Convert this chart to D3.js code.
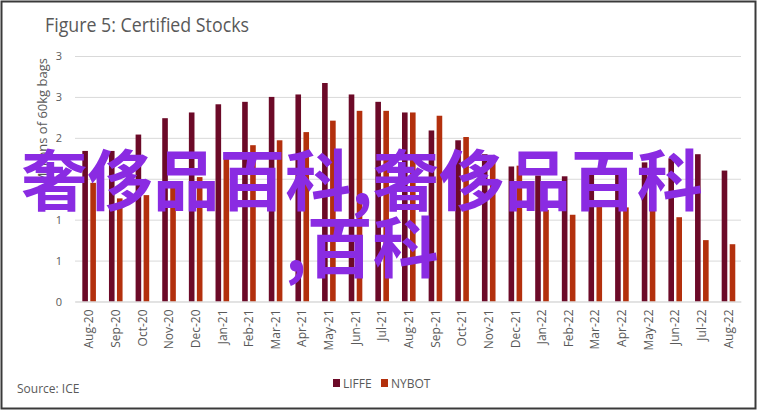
<!DOCTYPE html>
<html>
<head>
<meta charset="utf-8">
<script src="https://cdn.jsdelivr.net/npm/d3@7/dist/d3.min.js"></script>
<style>
  html, body { margin: 0; padding: 0; background: #fff; }
  svg { display: block; }
  text { font-family: "Open Sans", "DejaVu Sans", sans-serif; }
</style>
</head>
<body>
<svg id="chart" width="758" height="411"></svg>
<script>
const months = ["Aug-20","Sep-20","Oct-20","Nov-20","Dec-20","Jan-21","Feb-21","Mar-21","Apr-21","May-21","Jun-21","Jul-21","Aug-21","Sep-21","Oct-21","Nov-21","Dec-21","Jan-22","Feb-22","Mar-22","Apr-22","May-22","Jun-22","Jul-22","Aug-22"];
const seriesNames = ["LIFFE", "NYBOT"];
const liffe = [1.84,1.84,2.04,2.24,2.31,2.41,2.44,2.50,2.53,2.67,2.53,2.44,2.31,2.09,1.97,1.80,1.65,1.54,1.53,1.60,1.62,1.70,1.75,1.80,1.60];
const nybot = [1.45,1.26,1.30,1.46,1.52,1.75,1.91,1.97,2.07,2.21,2.33,2.33,2.31,2.27,2.01,1.73,1.66,1.12,1.06,1.17,1.15,1.15,1.03,0.75,0.70];
const yTickValues = [0, 0.5, 1, 1.5, 2, 2.5, 3];
const yTickLabels = ["0", "1", "1", "2", "2", "3", "3"];
const titleText = "Figure 5: Certified Stocks";
const yAxisTitle = "Millions of 60kg bags";
const sourceText = "Source: ICE";
const watermarkLines = ["奢侈品百科,奢侈品百科", ",百科"];

const colors = { LIFFE: "#6c0a28", NYBOT: "#b3300d" };
const textGray = "#595959";

const svg = d3.select("#chart");

// frame
svg.append("rect").attr("x", 1.5).attr("y", 1.5).attr("width", 754).attr("height", 407)
  .attr("fill", "#fff").attr("stroke", "#3a3a3a").attr("stroke-width", 2);

// title
svg.append("text").attr("x", 45).attr("y", 32)
  .attr("font-size", 20).attr("fill", textGray)
  .attr("textLength", 204).attr("lengthAdjust", "spacingAndGlyphs")
  .text(titleText);

const plot = { left: 75, right: 741, top: 56, bottom: 301.5 };

const y = d3.scaleLinear().domain([0, 3]).range([plot.bottom, plot.top]);
const x0 = d3.scaleBand().domain(months).range([plot.left, plot.right]).padding(0);
const groupW = 13.6;
const x1 = d3.scaleBand().domain(seriesNames).range([0, groupW]).paddingInner(0.3).paddingOuter(0);

// gridlines
const yAxis = d3.axisLeft(y).tickValues(yTickValues)
  .tickSize(-(plot.right - plot.left))
  .tickFormat((d, i) => yTickLabels[i]);
const gy = svg.append("g").attr("transform", `translate(${plot.left},0)`).call(yAxis);
gy.select(".domain").remove();
gy.selectAll(".tick line").attr("stroke", "#d9d9d9").attr("stroke-width", 1);
gy.selectAll(".tick text").attr("x", -13).attr("fill", textGray)
  .attr("font-size", 11).attr("font-family", "'Open Sans', sans-serif");

// y axis title
svg.append("text")
  .attr("transform", `translate(47,58) rotate(-90)`)
  .attr("text-anchor", "end")
  .attr("font-size", 13).attr("fill", textGray)
  .text(yAxisTitle);

// bars
const data = months.map((m, i) => ({ month: m, LIFFE: liffe[i], NYBOT: nybot[i] }));
const groups = svg.append("g").selectAll("g").data(data).join("g")
  .attr("transform", d => `translate(${x0(d.month) + x0.bandwidth() / 2 - groupW / 2 + 0.8},0)`);
groups.selectAll("rect").data(d => seriesNames.map(s => ({ s, v: d[s] }))).join("rect")
  .attr("x", d => x1(d.s))
  .attr("width", x1.bandwidth())
  .attr("y", d => y(d.v))
  .attr("height", d => y(0) - y(d.v))
  .attr("fill", d => colors[d.s]);

// x axis
const xAxis = d3.axisBottom(x0).tickSize(0).tickPadding(0);
const gx = svg.append("g").attr("transform", `translate(0,${plot.bottom})`).call(xAxis);
gx.select(".domain").attr("stroke", "#d9d9d9");
gx.selectAll(".tick text")
  .attr("transform", "translate(5,8) rotate(-90)")
  .attr("text-anchor", "end")
  .attr("dy", "0")
  .attr("x", 0).attr("y", 0)
  .attr("fill", textGray).attr("font-size", 12)
  .attr("font-family", "'Open Sans', sans-serif");

// source
svg.append("text").attr("x", 17).attr("y", 393)
  .attr("font-size", 12).attr("fill", textGray).text(sourceText);

// legend
const legendX = [333, 381];
const lg = svg.append("g").selectAll("g").data(seriesNames).join("g")
  .attr("transform", (d, i) => `translate(${legendX[i]},379)`);
lg.append("rect").attr("width", 7).attr("height", 8).attr("fill", d => colors[d]);
lg.append("text").attr("x", 10).attr("y", 8.5).attr("font-size", 12).attr("fill", textGray).text(d => d);

// watermark
const wm = svg.append("g");
wm.selectAll("text").data(watermarkLines).join("text")
  .attr("x", 362)
  .attr("y", (d, i) => 205 + i * 67)
  .attr("text-anchor", "middle")
  .style("font-family", "'Noto Sans CJK SC', sans-serif")
  .attr("font-weight", "bold")
  .attr("font-size", 66)
  .attr("fill", "#8a2be2")
  .text(d => d);
</script>
</body>
</html>
